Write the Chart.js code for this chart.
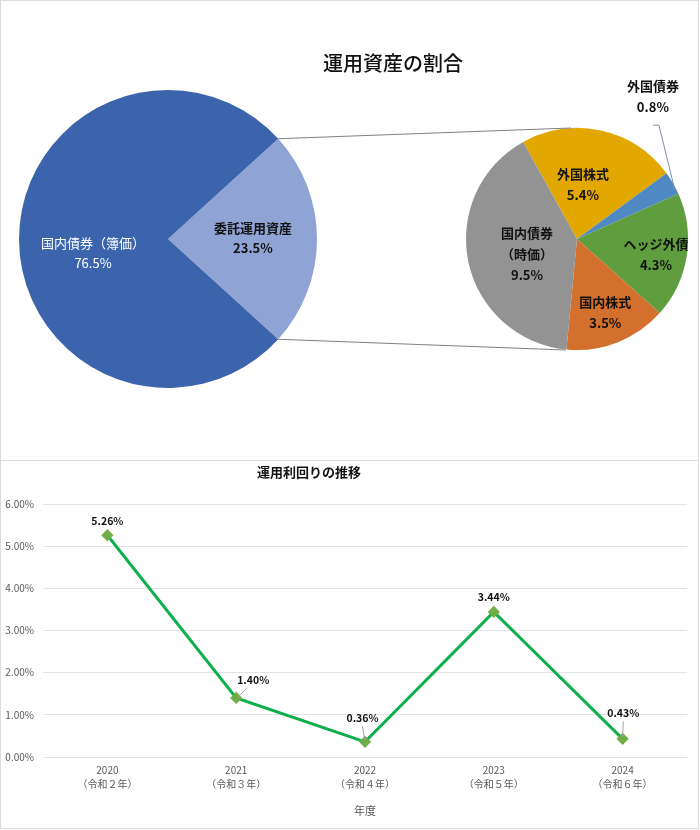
<!DOCTYPE html>
<html><head><meta charset="utf-8">
<script src="https://cdn.jsdelivr.net/npm/chart.js@4.4.1/dist/chart.umd.min.js"></script>
<style>
html,body{margin:0;padding:0;background:#fff;}
#wrap{position:relative;width:700px;height:830px;}
canvas{position:absolute;left:0;}
.bd{position:absolute;box-sizing:border-box;border:1px solid #dcdcdc;pointer-events:none;}
</style></head>
<body>
<div id="wrap">
  <canvas id="c1" width="700" height="460" style="top:0"></canvas>
  <canvas id="c2" width="700" height="460" style="top:0"></canvas>
  <canvas id="c3" width="700" height="370" style="top:460px"></canvas>
  <div class="bd" style="left:0;top:0;width:699px;height:461px"></div>
  <div class="bd" style="left:0;top:460px;width:699px;height:369px"></div>
</div>
<script>
// ---------- data ----------
const mainLabels = ['委託運用資産', '国内債券（簿価）'];
const mainValues = [23.5, 76.5];
const subLabels = ['外国株式', '外国債券', 'ヘッジ外債', '国内株式', '国内債券（時価）'];
const subValues = [5.4, 0.8, 4.3, 3.5, 9.5];
const years = ['2020', '2021', '2022', '2023', '2024'];
const eraLabels = ['（令和２年）', '（令和３年）', '（令和４年）', '（令和５年）', '（令和６年）'];
const yieldValues = [5.26, 1.40, 0.36, 3.44, 0.43];
const yTicks = [0, 1, 2, 3, 4, 5, 6];

// ---------- styles ----------
const FONT = '"Noto Sans CJK JP", "Noto Sans", sans-serif';
const mainColors = ['#8FA3D4', '#3C64AD'];
const subColors = ['#E3A800', '#4E89C3', '#5F9D3F', '#D4702E', '#939393'];
// label layout per slice: radial fraction, text lines, color, weight, offsets
const mainLabelStyle = [
  {frac: 0.57, lines: ['委託運用資産', '23.5%'], color: '#111', bold: true, dx: 0, dy: -1},
  {frac: 0.51, lines: ['国内債券（簿価）', '76.5%'], color: '#ffffff', bold: false, dx: 1, dy: 14}
];
const subLabelStyle = [
  {frac: 0.5, lines: ['外国株式', '5.4%'], dx: -6, dy: 0},
  null,
  {frac: 0.72, lines: ['ヘッジ外債', '4.3%'], dx: 0, dy: 3},
  {frac: 0.70, lines: ['国内株式', '3.5%'], dx: 0, dy: 1},
  {frac: 0.46, lines: ['国内債券', '（時価）', '9.5%'], dx: 0, dy: 5}
];
const outsideLabel = {index: 1, lines: ['外国債券', '0.8%'], dx: -22, dy: -86};

function drawLines(ctx, lines, x, y, lh) {
  const n = lines.length;
  lines.forEach((t, i) => ctx.fillText(t, x, y + (i - (n - 1) / 2) * lh));
}

const sumMain = mainValues.reduce((a, b) => a + b, 0);

// ---------- main pie ----------
const pie1Labels = {
  id: 'pie1Labels',
  afterDraw(chart) {
    const ctx = chart.ctx;
    const arcs = chart.getDatasetMeta(0).data;
    ctx.save();
    ctx.textAlign = 'center'; ctx.textBaseline = 'middle';
    arcs.forEach((a, i) => {
      const s = mainLabelStyle[i];
      const mid = (a.startAngle + a.endAngle) / 2;
      const r = a.outerRadius * s.frac;
      const x = a.x + Math.cos(mid) * r + s.dx, y = a.y + Math.sin(mid) * r + s.dy;
      ctx.fillStyle = s.color;
      ctx.font = (s.bold ? 'bold ' : '') + '13px ' + FONT;
      drawLines(ctx, s.lines, x, y, 20.5);
    });
    ctx.fillStyle = '#111';
    ctx.font = '500 20px ' + FONT;
    ctx.fillText('運用資産の割合', 393, 63);
    ctx.restore();
  }
};
const chart1 = new Chart(document.getElementById('c1'), {
  type: 'pie',
  data: {labels: mainLabels, datasets: [{data: mainValues, backgroundColor: mainColors, borderWidth: 0}]},
  options: {
    responsive: false, animation: false,
    rotation: 90 - (mainValues[0] / sumMain) * 180,
    layout: {padding: {left: 19, top: 90, right: 383, bottom: 72}},
    plugins: {legend: {display: false}, tooltip: {enabled: false}}
  },
  plugins: [pie1Labels]
});

// ---------- sub pie ----------
const pie2Labels = {
  id: 'pie2Labels',
  afterDraw(chart) {
    const ctx = chart.ctx;
    const arcs = chart.getDatasetMeta(0).data;
    const a0 = arcs[0];
    ctx.save();
    const m = chart1.getDatasetMeta(0).data[0];
    const p1 = {x: m.x + Math.cos(m.startAngle) * m.outerRadius, y: m.y + Math.sin(m.startAngle) * m.outerRadius};
    const p2 = {x: m.x + Math.cos(m.endAngle) * m.outerRadius, y: m.y + Math.sin(m.endAngle) * m.outerRadius};
    ctx.strokeStyle = '#808080'; ctx.lineWidth = 1;
    ctx.beginPath();
    ctx.moveTo(p1.x, p1.y); ctx.lineTo(a0.x - 6, a0.y - a0.outerRadius);
    ctx.moveTo(p2.x, p2.y); ctx.lineTo(a0.x - 11, a0.y + a0.outerRadius);
    ctx.stroke();

    ctx.textAlign = 'center'; ctx.textBaseline = 'middle';
    ctx.fillStyle = '#111';
    ctx.font = 'bold 13px ' + FONT;
    arcs.forEach((a, i) => {
      const s = subLabelStyle[i];
      if (!s) return;
      const mid = (a.startAngle + a.endAngle) / 2;
      const r = a.outerRadius * s.frac;
      const x = a.x + Math.cos(mid) * r + s.dx, y = a.y + Math.sin(mid) * r + s.dy;
      ctx.save();
      ctx.beginPath(); ctx.rect(0, 0, a.x + a.outerRadius + 1, chart.height); ctx.clip();
      drawLines(ctx, s.lines, x, y, 21);
      ctx.restore();
    });
    const o = arcs[outsideLabel.index];
    const mid = (o.startAngle + o.endAngle) / 2;
    const ex = o.x + Math.cos(mid) * o.outerRadius * 1.02;
    const ey = o.y + Math.sin(mid) * o.outerRadius * 1.02;
    const lx = ex + outsideLabel.dx, ly = ey + outsideLabel.dy;
    drawLines(ctx, outsideLabel.lines, lx, ly, 21);
    ctx.strokeStyle = '#7f8fa6';
    ctx.beginPath();
    ctx.moveTo(lx, ly + 29); ctx.lineTo(lx + 6, ly + 29); ctx.lineTo(ex, ey + 8);
    ctx.stroke();
    ctx.restore();
  }
};
new Chart(document.getElementById('c2'), {
  type: 'pie',
  data: {labels: subLabels, datasets: [{data: subValues, backgroundColor: subColors, borderWidth: 0}]},
  options: {
    responsive: false, animation: false,
    rotation: -29,
    layout: {padding: {left: 466, top: 128, right: 12, bottom: 110}},
    plugins: {legend: {display: false}, tooltip: {enabled: false}}
  },
  plugins: [pie2Labels]
});

// ---------- line chart ----------
const labelOffsets = [
  {dx: 0, dy: -14, lead: false},
  {dx: 17, dy: -18, lead: true},
  {dx: -2.5, dy: -24, lead: true},
  {dx: 0, dy: -15, lead: false},
  {dx: 0.7, dy: -25.5, lead: true}
];
const lineLabels = {
  id: 'lineLabels',
  afterDatasetsDraw(chart) {
    const ctx = chart.ctx;
    const pts = chart.getDatasetMeta(0).data;
    ctx.save();
    ctx.textAlign = 'center'; ctx.textBaseline = 'middle';
    ctx.font = 'bold 10.5px ' + FONT;
    pts.forEach((p, i) => {
      const o = labelOffsets[i];
      const tx = p.x + o.dx, ty = p.y + o.dy;
      if (o.lead) {
        ctx.strokeStyle = '#a6a6a6'; ctx.lineWidth = 1;
        ctx.beginPath();
        const dx = tx - p.x, dy = (ty + 8) - p.y;
        ctx.moveTo(p.x + dx * 0.12, p.y + dy * 0.12);
        ctx.lineTo(tx - (dx > 5 ? 6 : 0), ty + 8);
        ctx.stroke();
      }
      ctx.fillStyle = '#111';
      ctx.fillText(yieldValues[i].toFixed(2) + '%', tx, ty);
    });
    // chart title
    ctx.font = 'bold 13px ' + FONT;
    ctx.fillText('運用利回りの推移', 309, 12);
    ctx.restore();
  }
};
new Chart(document.getElementById('c3'), {
  type: 'line',
  data: {
    labels: years.map((y, i) => [y, eraLabels[i]]),
    datasets: [{
      data: yieldValues,
      borderColor: '#0FAF4E', borderWidth: 3,
      pointStyle: 'rectRot', pointRadius: 4, pointBackgroundColor: '#70AD47', pointBorderColor: '#70AD47',
      tension: 0, fill: false
    }]
  },
  options: {
    responsive: false, animation: false,
    layout: {padding: {left: 0, right: 13, top: 44, bottom: 0}},
    plugins: {
      legend: {display: false}, tooltip: {enabled: false}, title: {display: false}
    },
    scales: {
      x: {
        offset: true,
        grid: {display: false, drawTicks: false},
        border: {display: false},
        ticks: {color: '#595959', font: {family: FONT, size: 10, lineHeight: 1.4}, padding: 6, maxRotation: 0, autoSkip: false},
        title: {display: true, text: '年度', color: '#595959', font: {family: FONT, size: 11}, padding: {top: 0, bottom: 13}},
        afterFit(s) { s.height = 73; }
      },
      y: {
        min: 0, max: 6,
        afterBuildTicks(s) { s.ticks = yTicks.map(v => ({value: v})); },
        grid: {color: '#e3e3e3', drawTicks: false, lineWidth: 1},
        border: {display: false},
        ticks: {color: '#595959', font: {family: FONT, size: 10}, padding: 9, callback: v => Number(v).toFixed(2) + '%'},
        afterFit(s) { s.width = 43; }
      }
    }
  },
  plugins: [lineLabels]
});
</script>
</body></html>
